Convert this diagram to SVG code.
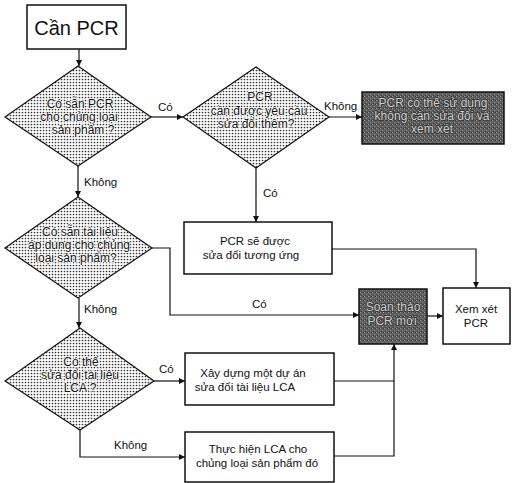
<svg xmlns="http://www.w3.org/2000/svg" width="512" height="483" viewBox="0 0 512 483">
<defs>
<pattern id="dots" width="3" height="3" patternUnits="userSpaceOnUse">
<rect width="3" height="3" fill="#fff"/>
<circle cx="1.5" cy="1.5" r="0.85" fill="#333"/>
</pattern>
<pattern id="grain" width="4" height="4" patternUnits="userSpaceOnUse">
<rect width="4" height="4" fill="#5e5e5e"/>
<rect x="0" y="0" width="1" height="1" fill="#9a9a9a"/>
<rect x="2" y="2" width="1" height="1" fill="#8a8a8a"/>
<rect x="3" y="0" width="1" height="1" fill="#3a3a3a"/>
<rect x="1" y="3" width="1" height="1" fill="#404040"/>
</pattern>
<marker id="arr" viewBox="0 0 10 10" refX="10" refY="5" markerWidth="8" markerHeight="6" orient="auto" markerUnits="userSpaceOnUse">
<path d="M0,0 L10,5 L0,10 z" fill="#111"/>
</marker>
</defs>
<style>
.box{fill:#fff;stroke:#111;stroke-width:1.5}
.dia{fill:url(#dots);stroke:#111;stroke-width:1.2}
.dark{fill:url(#grain);stroke:#111;stroke-width:1.5}
.t{font-family:"Liberation Sans",Arial,sans-serif;font-size:11.5px;fill:#111;text-anchor:middle}
.dt{font-family:"Liberation Sans",Arial,sans-serif;font-size:12px;fill:#111;text-anchor:middle;stroke:#fff;stroke-width:1.6;paint-order:stroke;stroke-linejoin:round}
.lt{font-family:"Liberation Sans",Arial,sans-serif;font-size:12px;fill:#d0d0d0;text-anchor:middle;stroke:#333;stroke-width:1.5;paint-order:stroke}
.lbl{font-family:"Liberation Sans",Arial,sans-serif;font-size:11.5px;fill:#111}
.c{fill:none;stroke:#111;stroke-width:1.2}
</style>
<g id="connectors">
<path class="c" d="M79,49 V66" marker-end="url(#arr)"/>
<path class="c" d="M151,117 H183" marker-end="url(#arr)"/>
<path class="c" d="M329,117 H362" marker-end="url(#arr)"/>
<path class="c" d="M256,168 V222" marker-end="url(#arr)"/>
<path class="c" d="M332,249 H476 V288" marker-end="url(#arr)"/>
<path class="c" d="M78,166 V197" marker-end="url(#arr)"/>
<path class="c" d="M152,248 H170 V315 H359" marker-end="url(#arr)"/>
<path class="c" d="M427,316 H443" marker-end="url(#arr)"/>
<path class="c" d="M79,298 V328" marker-end="url(#arr)"/>
<path class="c" d="M154,381 H185" marker-end="url(#arr)"/>
<path class="c" d="M80,430 V457 H185" marker-end="url(#arr)"/>
<path class="c" d="M334,381 H394"/>
<path class="c" d="M334,456 H394 V344" marker-end="url(#arr)"/>
<text class="lbl" x="158" y="111">Có</text>
<text class="lbl" x="324" y="110">Không</text>
<text class="lbl" x="263" y="197">Có</text>
<text class="lbl" x="84" y="186">Không</text>
<text class="lbl" x="252" y="308">Có</text>
<text class="lbl" x="84" y="313">Không</text>
<text class="lbl" x="159" y="373">Có</text>
<text class="lbl" x="114" y="449">Không</text>
</g>
<g id="n-can-pcr">
<rect class="box" x="27" y="5" width="99" height="44"/>
<text class="t" x="76.5" y="35" style="font-size:20px">Cần PCR</text>
</g>
<g id="d1">
<polygon class="dia" points="78,66 151,117 78,166 5,117"/>
<text class="dt" x="80" y="108">Có sẵn PCR</text>
<text class="dt" x="79" y="121">cho chủng loại</text>
<text class="dt" x="83" y="134">sản phẩm ?</text>
</g>
<g id="d2">
<polygon class="dia" points="256,67 329,117 256,168 183,117"/>
<text class="dt" x="260" y="101">PCR</text>
<text class="dt" x="259" y="115">cần được yêu cầu</text>
<text class="dt" x="256" y="128">sửa đổi thêm?</text>
</g>
<g id="n-dung">
<rect class="dark" x="362" y="92" width="142" height="52"/>
<text class="lt" x="433" y="107">PCR có thể sử dụng</text>
<text class="lt" x="432" y="120">không cần sửa đổi và</text>
<text class="lt" x="432" y="133">xem xét</text>
</g>
<g id="n-suadoi">
<rect class="box" x="184" y="222" width="148" height="52"/>
<text class="t" x="255" y="245">PCR sẽ được</text>
<text class="t" x="251" y="259">sửa đổi tương ứng</text>
</g>
<g id="d3">
<polygon class="dia" points="78,197 152,248 78,298 5,248"/>
<text class="dt" x="80" y="236">Có sẵn tài liệu</text>
<text class="dt" x="79" y="249">áp dụng cho chủng</text>
<text class="dt" x="76" y="262">loại sản phẩm?</text>
</g>
<g id="n-soan">
<rect class="dark" x="359" y="289" width="68" height="55"/>
<text class="lt" x="393" y="311">Soạn thảo</text>
<text class="lt" x="392" y="325">PCR mới</text>
</g>
<g id="n-xemxet">
<rect class="box" x="443" y="288" width="67" height="56"/>
<text class="t" x="476" y="313">Xem xét</text>
<text class="t" x="476" y="327">PCR</text>
</g>
<g id="d4">
<polygon class="dia" points="80,328 154,381 80,430 5,381"/>
<text class="dt" x="81" y="366">Có thể</text>
<text class="dt" x="80" y="379">sửa đổi tài liệu</text>
<text class="dt" x="80" y="392">LCA ?</text>
</g>
<g id="n-xaydung">
<rect class="box" x="185" y="353" width="149" height="52"/>
<text class="t" x="253" y="377">Xây dựng một dự án</text>
<text class="t" x="245" y="391">sửa đổi tài liệu LCA</text>
</g>
<g id="n-thuchien">
<rect class="box" x="185" y="432" width="149" height="50"/>
<text class="t" x="258" y="453">Thực hiện LCA cho</text>
<text class="t" x="257" y="467">chủng loại sản phẩm đó</text>
</g>
</svg>
